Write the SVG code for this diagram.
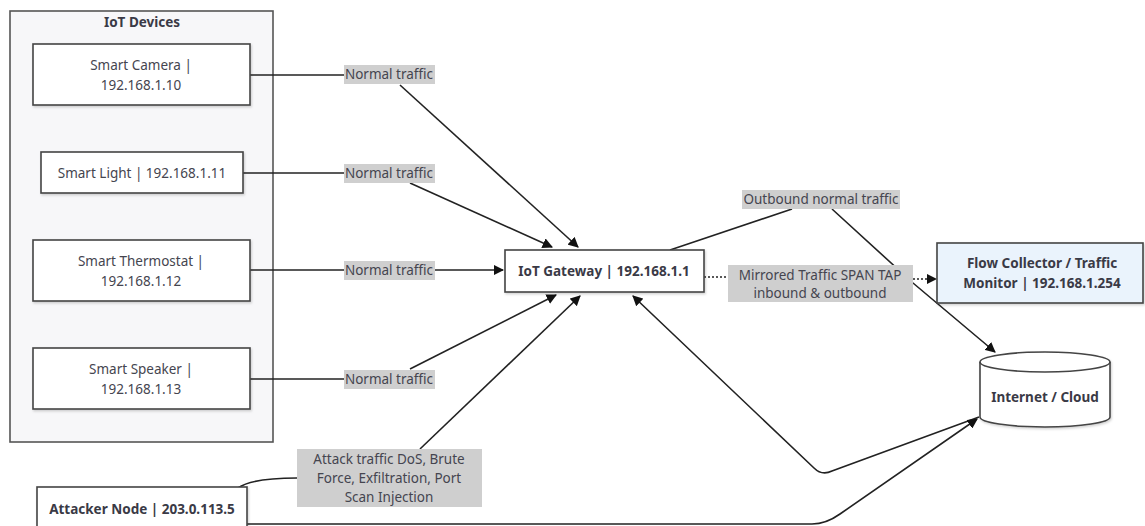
<svg xmlns="http://www.w3.org/2000/svg" width="1145" height="526" viewBox="0 0 1145 526">
<style>
  text { font-family: "Noto Sans", "Open Sans", "Liberation Sans", sans-serif; font-size: 13.5px; fill: #45454f; text-anchor: middle; dominant-baseline: central; }
  .b { font-weight: bold; fill: #3a3a46; }
  .grp { fill: #f7f7f9; stroke: #555; stroke-width: 1.6; }
  .node { fill: #ffffff; stroke: #444; stroke-width: 1.6; filter: url(#sh); }
  .blue { fill: #eaf3fc; }
  .lbl { fill: #cfcfcf; stroke: none; }
  .e { fill: none; stroke: #222; stroke-width: 1.6; }
  .arr { marker-end: url(#ah); }
  .dot { stroke-dasharray: 2 2; }
</style>
<defs>
  <marker id="ah" viewBox="0 0 10 10" refX="9" refY="5" markerWidth="6.5" markerHeight="6.5" orient="auto" markerUnits="strokeWidth">
    <path d="M0,0 L10,5 L0,10 z" fill="#111"/>
  </marker>
  <filter id="sh" x="-10%" y="-10%" width="120%" height="130%">
    <feDropShadow dx="1" dy="1.5" stdDeviation="1" flood-color="#000" flood-opacity="0.18"/>
  </filter>
</defs>
<rect width="1145" height="526" fill="#ffffff"/>

<g id="iot-devices">
  <rect class="grp" x="10" y="11" width="263" height="431"/>
  <text class="b" x="142" y="22">IoT Devices</text>
</g>

<g id="connectors">
  <path class="e" d="M250,75 L344,75"/>
  <path class="e arr" d="M400,85 L578,247"/>
  <path class="e" d="M243,173 L344,173"/>
  <path class="e arr" d="M410,183 L552,247"/>
  <path class="e" d="M250,270 L344,270"/>
  <path class="e arr" d="M434,270 L503,270"/>
  <path class="e" d="M250,379 L344,379"/>
  <path class="e arr" d="M410,369 L556,295"/>
  <path class="e" d="M238,488 Q252,478 297,478"/>
  <path class="e arr" d="M420,449 L580,296"/>
  <path class="e" d="M670,250 L792,209"/>
  <path class="e arr" d="M832,209 L913,283 L995,352"/>
  <path class="e dot" d="M704,277 L728,277"/>
  <path class="e dot arr" d="M913,279 L936,279"/>
  <path class="e arr" d="M979,417 L832,471 Q822,476 814,468 L633,296"/>
  <path class="e arr" d="M247,524 L812,524 Q826,524 840,514 L977,419"/>
</g>

<g id="labels">
  <rect class="lbl" x="344" y="65" width="91" height="19"/>
  <text x="389" y="74">Normal traffic</text>
  <rect class="lbl" x="344" y="164" width="91" height="19"/>
  <text x="389" y="173">Normal traffic</text>
  <rect class="lbl" x="344" y="261" width="91" height="19"/>
  <text x="389" y="270">Normal traffic</text>
  <rect class="lbl" x="344" y="370" width="91" height="19"/>
  <text x="389" y="379">Normal traffic</text>
  <rect class="lbl" x="297" y="449" width="185" height="58"/>
  <text x="389" y="459">Attack traffic DoS, Brute</text>
  <text x="389" y="478">Force, Exfiltration, Port</text>
  <text x="389" y="497">Scan Injection</text>
  <rect class="lbl" x="742" y="190" width="158" height="19"/>
  <text x="821" y="199">Outbound normal traffic</text>
  <rect class="lbl" x="728" y="265" width="185" height="37"/>
  <text x="820" y="275">Mirrored Traffic SPAN TAP</text>
  <text x="820" y="293">inbound &amp; outbound</text>
</g>

<g id="smart-camera">
  <rect class="node" x="33" y="44" width="217" height="61"/>
  <text x="141" y="65">Smart Camera |</text>
  <text x="141" y="85">192.168.1.10</text>
</g>
<g id="smart-light">
  <rect class="node" x="41" y="152" width="202" height="41"/>
  <text x="142" y="173">Smart Light | 192.168.1.11</text>
</g>
<g id="smart-thermostat">
  <rect class="node" x="33" y="240" width="217" height="61"/>
  <text x="141" y="261">Smart Thermostat |</text>
  <text x="141" y="281">192.168.1.12</text>
</g>
<g id="smart-speaker">
  <rect class="node" x="33" y="348" width="217" height="61"/>
  <text x="141" y="369">Smart Speaker |</text>
  <text x="141" y="389">192.168.1.13</text>
</g>
<g id="attacker-node">
  <rect class="node" x="37" y="487" width="210" height="46"/>
  <text class="b" x="142" y="509">Attacker Node | 203.0.113.5</text>
</g>
<g id="iot-gateway">
  <rect class="node" x="505" y="250" width="199" height="42"/>
  <text class="b" x="604" y="271">IoT Gateway | 192.168.1.1</text>
</g>
<g id="flow-collector">
  <rect class="node blue" x="937" y="243" width="206" height="60"/>
  <text class="b" x="1042" y="263">Flow Collector / Traffic</text>
  <text class="b" x="1042" y="283">Monitor | 192.168.1.254</text>
</g>
<g id="internet-cloud">
  <path class="node" d="M980,362 A65,10 0 0 1 1110,362 L1110,417 A65,10 0 0 1 980,417 Z"/>
  <path d="M980,362 A65,10 0 0 0 1110,362" fill="none" stroke="#444" stroke-width="1.6"/>
  <text class="b" x="1045" y="397">Internet / Cloud</text>
</g>
</svg>
